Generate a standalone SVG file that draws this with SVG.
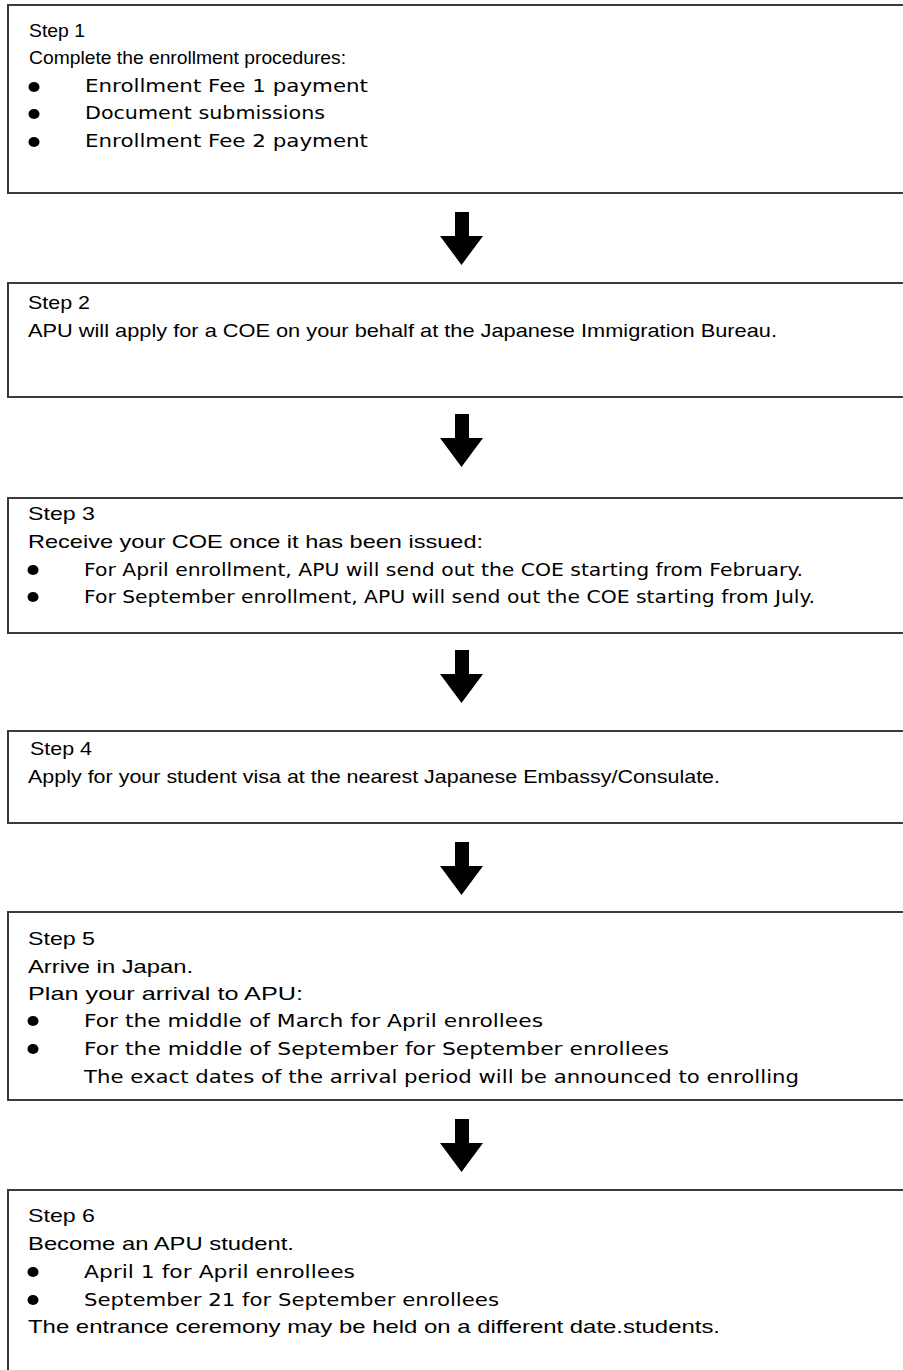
<svg xmlns="http://www.w3.org/2000/svg" width="903" height="1370" viewBox="0 0 903 1370">
<style>
.box{fill:#fff;stroke:#3a3a3a;stroke-width:2}
.t{font-family:"Liberation Sans",Arial,sans-serif;font-size:18.5px;fill:#000}
.b{font-family:"DejaVu Sans",Verdana,sans-serif;font-size:18px;fill:#000}
.arrow{fill:#000}
</style>
<defs>
<path id="arr" d="M455,0 H469 V24 H483 L461.5,53 L440,24 H455 Z"/>
<ellipse id="dot" cx="0" cy="0" rx="5.5" ry="5"/>
</defs>
<rect width="903" height="1370" fill="#fff"/>
<g id="connectors" class="arrow">
<use href="#arr" y="212"/>
<use href="#arr" y="414"/>
<use href="#arr" y="650"/>
<use href="#arr" y="842"/>
<use href="#arr" y="1119"/>
</g>
<g id="step1">
<rect class="box" x="8" y="5" width="910" height="188"/>
<text class="t" x="29" y="37" textLength="56" lengthAdjust="spacingAndGlyphs">Step 1</text>
<text class="t" x="29" y="64" textLength="317" lengthAdjust="spacingAndGlyphs">Complete the enrollment procedures:</text>
<use href="#dot" x="34" y="87"/><text class="b" x="85" y="92" textLength="283" lengthAdjust="spacingAndGlyphs">Enrollment Fee 1 payment</text>
<use href="#dot" x="34" y="114"/><text class="b" x="85" y="119" textLength="240" lengthAdjust="spacingAndGlyphs">Document submissions</text>
<use href="#dot" x="34" y="142"/><text class="b" x="85" y="147" textLength="283" lengthAdjust="spacingAndGlyphs">Enrollment Fee 2 payment</text>
</g>
<g id="step2">
<rect class="box" x="8" y="283" width="910" height="114"/>
<text class="t" x="28" y="309" textLength="62" lengthAdjust="spacingAndGlyphs">Step 2</text>
<text class="t" x="28" y="337" textLength="749" lengthAdjust="spacingAndGlyphs">APU will apply for a COE on your behalf at the Japanese Immigration Bureau.</text>
</g>
<g id="step3">
<rect class="box" x="8" y="498" width="910" height="135"/>
<text class="t" x="28" y="520" textLength="67" lengthAdjust="spacingAndGlyphs">Step 3</text>
<text class="t" x="28" y="548" textLength="455" lengthAdjust="spacingAndGlyphs">Receive your COE once it has been issued:</text>
<use href="#dot" x="33" y="570"/><text class="b" x="84" y="576" textLength="719" lengthAdjust="spacingAndGlyphs">For April enrollment, APU will send out the COE starting from February.</text>
<use href="#dot" x="33" y="597"/><text class="b" x="84" y="603" textLength="731" lengthAdjust="spacingAndGlyphs">For September enrollment, APU will send out the COE starting from July.</text>
</g>
<g id="step4">
<rect class="box" x="8" y="731" width="910" height="92"/>
<text class="t" x="30" y="755" textLength="62" lengthAdjust="spacingAndGlyphs">Step 4</text>
<text class="t" x="28" y="783" textLength="692" lengthAdjust="spacingAndGlyphs">Apply for your student visa at the nearest Japanese Embassy/Consulate.</text>
</g>
<g id="step5">
<rect class="box" x="8" y="912" width="910" height="188"/>
<text class="t" x="28" y="945" textLength="67" lengthAdjust="spacingAndGlyphs">Step 5</text>
<text class="t" x="28" y="973" textLength="165" lengthAdjust="spacingAndGlyphs">Arrive in Japan.</text>
<text class="t" x="28" y="1000" textLength="275" lengthAdjust="spacingAndGlyphs">Plan your arrival to APU:</text>
<use href="#dot" x="33" y="1021"/><text class="b" x="84" y="1027" textLength="459" lengthAdjust="spacingAndGlyphs">For the middle of March for April enrollees</text>
<use href="#dot" x="33" y="1049"/><text class="b" x="84" y="1055" textLength="585" lengthAdjust="spacingAndGlyphs">For the middle of September for September enrollees</text>
<text class="b" x="84" y="1083" textLength="715" lengthAdjust="spacingAndGlyphs">The exact dates of the arrival period will be announced to enrolling</text>
</g>
<g id="step6">
<rect class="box" x="8" y="1190" width="910" height="200"/>
<text class="t" x="28" y="1222" textLength="67" lengthAdjust="spacingAndGlyphs">Step 6</text>
<text class="t" x="28" y="1250" textLength="266" lengthAdjust="spacingAndGlyphs">Become an APU student.</text>
<use href="#dot" x="33" y="1272"/><text class="b" x="84" y="1278" textLength="271" lengthAdjust="spacingAndGlyphs">April 1 for April enrollees</text>
<use href="#dot" x="33" y="1300"/><text class="b" x="84" y="1306" textLength="415" lengthAdjust="spacingAndGlyphs">September 21 for September enrollees</text>
<text class="t" x="28" y="1333" textLength="692" lengthAdjust="spacingAndGlyphs">The entrance ceremony may be held on a different date.students.</text>
</g>
</svg>
